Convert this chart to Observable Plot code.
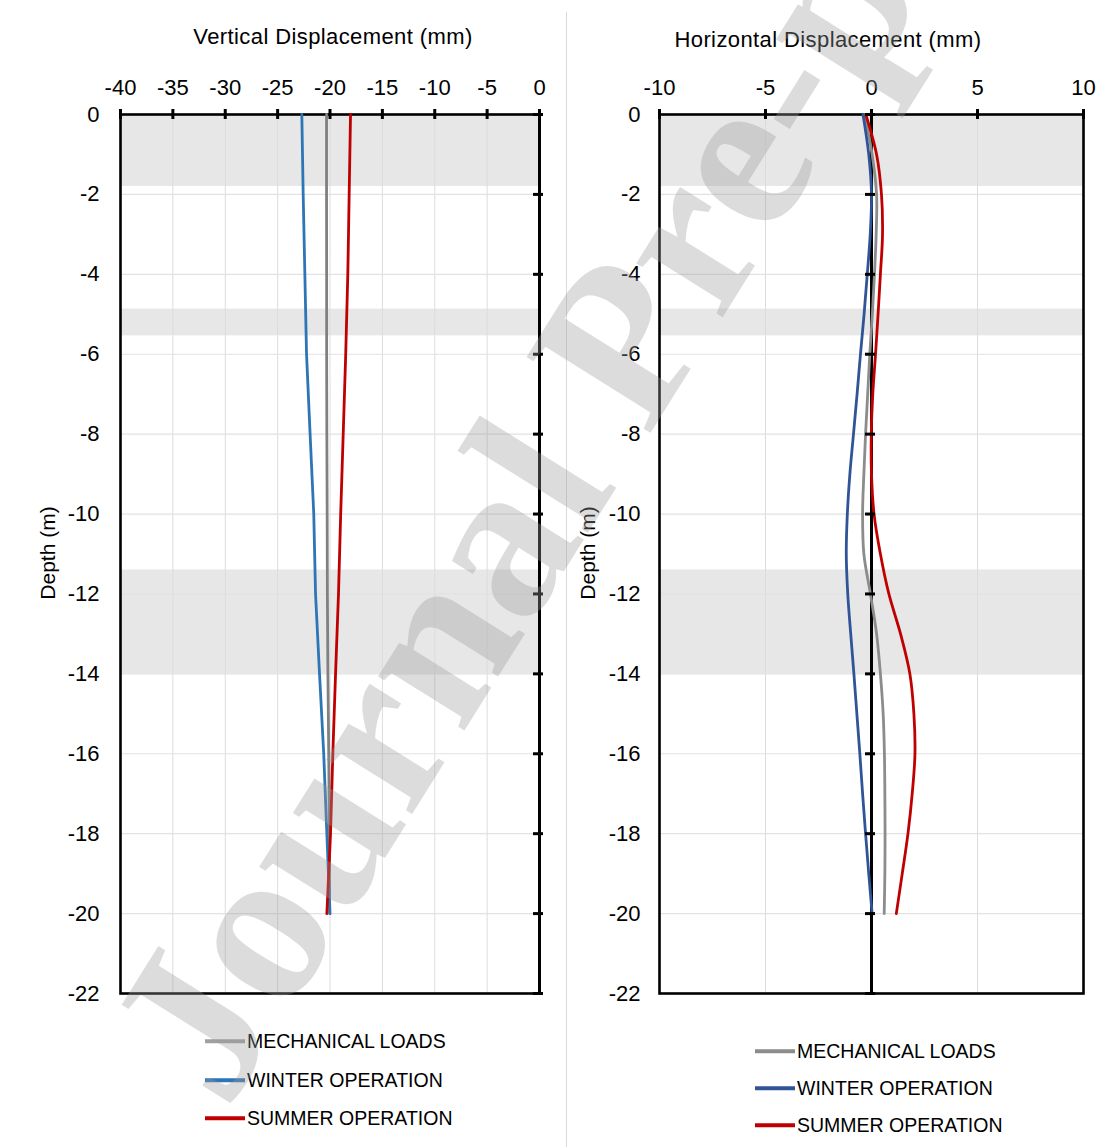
<!DOCTYPE html>
<html><head><meta charset="utf-8">
<script src="https://cdn.jsdelivr.net/npm/d3@7"></script>
<script src="https://cdn.jsdelivr.net/npm/@observablehq/plot@0.6"></script>
<style>
body{margin:0;background:#fff;}
#wrap{position:relative;width:1101px;height:1147px;overflow:hidden;font-family:"Liberation Sans",Arial,sans-serif;color:#000;background:#fff;}
.abs{position:absolute;}
.title{font-size:22px;letter-spacing:0.4px;white-space:nowrap;transform:translate(-50%,-50%);}
.ylab{font-size:21px;white-space:nowrap;transform:translate(-50%,-50%) rotate(-90deg);}
.legline{position:absolute;height:3.5px;width:40px;transform:translateY(-50%);}
.legtxt{position:absolute;font-size:19.5px;white-space:nowrap;transform:translateY(-50%);}
.panel svg{display:block;}
</style></head><body><div id="wrap"></div>
<script>
// ---------- data ----------
const seriesNames = ["MECHANICAL LOADS", "WINTER OPERATION", "SUMMER OPERATION"];

// Vertical displacement (mm) vs depth (m)
const depthV = [0, -2, -4, -6, -8, -10, -12, -14, -16, -18, -20];
const vertMechanical = [-20.33, -20.33, -20.32, -20.32, -20.3, -20.27, -20.25, -20.2, -20.12, -20.06, -20.03];
const vertWinter = [-22.69, -22.56, -22.4, -22.24, -21.9, -21.55, -21.38, -21.0, -20.6, -20.3, -20.0];
const vertSummer = [-18.04, -18.17, -18.3, -18.5, -18.74, -18.98, -19.19, -19.47, -19.73, -19.95, -20.3];

// Horizontal displacement (mm) vs depth (m)
const depthH = [0, -1, -2, -3, -4, -5, -6, -7, -8, -9, -10, -11, -12, -13, -14, -15, -16, -17, -18, -19, -20];
const horMechanical = [-0.32, 0.03, 0.24, 0.22, 0.14, 0.04, -0.08, -0.18, -0.28, -0.36, -0.42, -0.36, -0.05, 0.24, 0.42, 0.55, 0.61, 0.63, 0.64, 0.63, 0.6];
const horWinter = [-0.4, -0.13, 0.0, -0.06, -0.2, -0.35, -0.52, -0.68, -0.85, -1.02, -1.14, -1.19, -1.12, -0.98, -0.83, -0.69, -0.55, -0.42, -0.28, -0.13, 0.03];
const horSummer = [-0.27, 0.24, 0.47, 0.52, 0.42, 0.31, 0.19, 0.06, -0.01, 0.0, 0.12, 0.42, 0.82, 1.37, 1.81, 2.0, 2.05, 1.92, 1.72, 1.45, 1.17];

// soil layer bands (depth m)
const bandTop = [0, -4.87, -11.4];
const bandBottom = [-1.8, -5.54, -14.0];

// ticks
const xTicksV = [-40, -35, -30, -25, -20, -15, -10, -5, 0];
const xTicksH = [-10, -5, 0, 5, 10];
const yTicks = [0, -2, -4, -6, -8, -10, -12, -14, -16, -18, -20, -22];

const colorsV = ["#808080", "#2e75b6", "#c00000"];
const colorsH = ["#8c8c8c", "#2f5597", "#c00000"];

// ---------- build ----------
const wrap = document.getElementById("wrap");
const bands = bandTop.map((t, i) => ({top: t, bottom: bandBottom[i]}));
const fmt = d => String(d);

function series(depths, arrays) {
  return arrays.map(vals => vals.map((v, i) => ({v, d: depths[i]})));
}

function panel({width, marginLeft, marginRight, xDomain, xTicks, data, colors, curve, yTickInset}) {
  const grid = xTicks.filter(t => t !== xDomain[0] && t !== xDomain[1] && t !== 0);
  return Plot.plot({
    width, height: 1000,
    marginTop: 114, marginBottom: 7, marginLeft, marginRight,
    style: "font-family:'Liberation Sans',Arial,sans-serif;font-size:22px;color:#000;background:transparent;overflow:visible;",
    x: {domain: xDomain},
    y: {domain: [-22, 0]},
    marks: [
      Plot.rect(bands, {y1: "top", y2: "bottom", fill: "#e7e7e7"}),
      Plot.ruleX(grid, {stroke: "#dcdcdc", strokeWidth: 1}),
      Plot.ruleY(yTicks, {stroke: "#e2e2e2", strokeWidth: 1.2}),
      Plot.frame({stroke: "#000", strokeWidth: 2.6}),
      Plot.ruleX([0], {stroke: "#000", strokeWidth: 3}),
      ...data.map((s, k) => Plot.line(s, {x: "v", y: "d", stroke: colors[k], strokeWidth: 2.8, curve})),
      Plot.ruleX(xTicks, {x: d => d, y1: 0, y2: 0, insetTop: -5, insetBottom: -5, stroke: "#000", strokeWidth: 3}),
      Plot.ruleY(yTicks, {y: d => d, x1: 0, x2: 0, insetLeft: -6, insetRight: -4, stroke: "#000", strokeWidth: 3}),
      Plot.axisX(xTicks, {anchor: "top", tickSize: 0, tickPadding: 20, label: null, tickFormat: fmt, fontSize: 22}),
      Plot.axisY(yTicks, {anchor: "left", tickSize: 0, tickPadding: yTickInset, label: null, tickFormat: fmt, fontSize: 22})
    ]
  });
}

function place(node, left, top) {
  const d = document.createElement("div");
  d.className = "abs panel";
  d.style.left = left + "px"; d.style.top = top + "px";
  d.appendChild(node);
  wrap.appendChild(d);
}

const left = panel({
  width: 560, marginLeft: 120, marginRight: 21, xDomain: [-40, 0], xTicks: xTicksV,
  data: series(depthV, [vertMechanical, vertWinter, vertSummer]), colors: colorsV, curve: "linear", yTickInset: 21
});
place(left, 0, 0);

const right = panel({
  width: 541, marginLeft: 99, marginRight: 18, xDomain: [-10, 10], xTicks: xTicksH,
  data: series(depthH, [horMechanical, horWinter, horSummer]), colors: colorsH, curve: "catmull-rom", yTickInset: 19
});
place(right, 560, 0);

function text(cls, str, x, y) {
  const d = document.createElement("div");
  d.className = "abs " + cls;
  d.style.left = x + "px"; d.style.top = y + "px";
  d.textContent = str;
  wrap.appendChild(d);
}
text("title", "Vertical Displacement (mm)", 333, 37);
text("title", "Horizontal Displacement (mm)", 828, 40);
text("ylab", "Depth (m)", 48, 553);
text("ylab", "Depth (m)", 588, 553);

// divider
const div = document.createElement("div");
div.className = "abs";
Object.assign(div.style, {left: "566px", top: "12px", width: "1px", height: "1135px", background: "#d9d9d9"});
wrap.appendChild(div);

// legends
function legend(x, ys, colors) {
  seriesNames.forEach((name, i) => {
    const l = document.createElement("div");
    l.className = "legline";
    l.style.left = x + "px"; l.style.top = ys[i] + "px"; l.style.background = colors[i];
    wrap.appendChild(l);
    const t = document.createElement("div");
    t.className = "legtxt";
    t.style.left = (x + 42) + "px"; t.style.top = ys[i] + "px";
    t.textContent = name;
    wrap.appendChild(t);
  });
}
legend(205, [1041, 1080, 1118], ["#a0a0a0", "#2e75b6", "#c00000"]);
legend(755, [1051, 1088, 1125], ["#8c8c8c", "#2f5597", "#c00000"]);

// watermark
const ns = "http://www.w3.org/2000/svg";
const wm = document.createElementNS(ns, "svg");
wm.setAttribute("width", 1101); wm.setAttribute("height", 1147);
wm.style.position = "absolute"; wm.style.left = "0"; wm.style.top = "0"; wm.style.pointerEvents = "none";
const wt = document.createElementNS(ns, "text");
wt.setAttribute("transform", "translate(226,1112) rotate(-58)");
wt.setAttribute("font-family", "Liberation Serif, DejaVu Serif, serif");
wt.setAttribute("font-weight", "bold");
wt.setAttribute("font-size", "222");
wt.setAttribute("fill", "#9a9a9a");
wt.setAttribute("fill-opacity", "0.35");
wt.textContent = "Journal Pre-proof";
wm.appendChild(wt);
wrap.appendChild(wm);
</script>
</body></html>
